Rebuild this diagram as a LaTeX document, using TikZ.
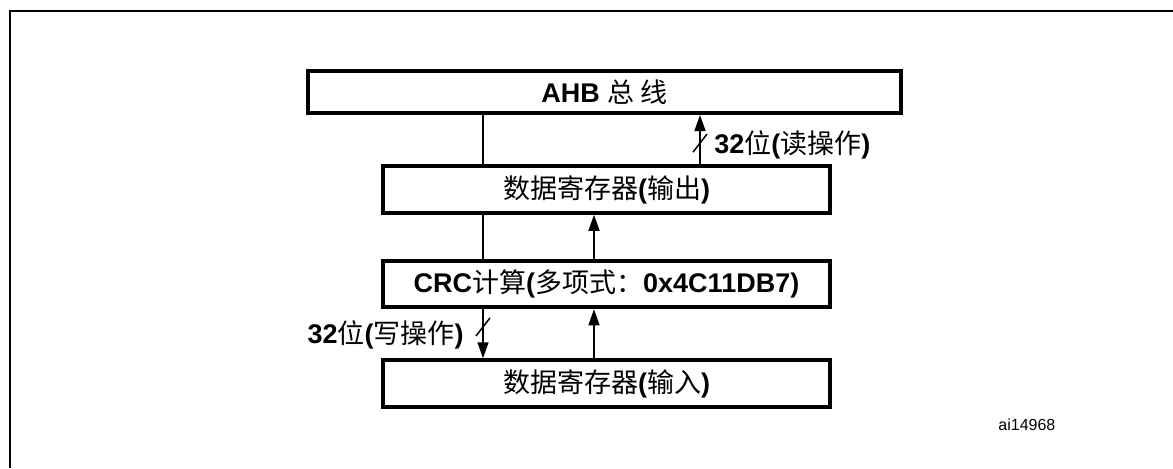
\documentclass[tikz,border=0pt]{standalone}
\usepackage{fontspec}
\setmainfont{Liberation Sans}
\newfontfamily\cjkfont{Noto Sans CJK SC}
\newcommand{\zh}[1]{{\cjkfont\mdseries #1}}
\usetikzlibrary{positioning,calc,arrows.meta}

\begin{document}
\begin{tikzpicture}
  [x=0.5pt, y=-0.5pt,
   block/.style={
    rectangle,
    draw,
    line width=2pt,
    fill=white,
    minimum width=#1,
    minimum height=23.25pt,
    inner sep=0pt,
    align=center,
    font=\fontsize{13.5}{16}\selectfont\bfseries
    },
   wire/.style={line width=0.75pt},
   busarrow/.style={wire, -{Triangle[length=8pt,width=5.5pt]}},
   buslabel/.style={font=\fontsize{13.5}{16}\selectfont\bfseries, inner sep=0pt}
  ]
  \useasboundingbox (0,0) rectangle (1173,468);

  % FRAME
  \draw[line width=1.2pt] (10,468) -- (10,11) -- (1173,11);

  % BLOCKS
  \node [block=296.5pt, minimum height=21pt] (ahb) at (604.5,92) {AHB \zh{总 线}};
  \node [block=223.5pt] (outreg) at (606.5,189.5) {\zh{数据寄存器}(\zh{输出})};
  \node [block=223.5pt] (crc) at (606.5,284) {CRC\zh{计算}(\zh{多项式：}0x4C11DB7)};
  \node [block=223.5pt] (inreg) at (606.5,383.5) {\zh{数据寄存器}(\zh{输入})};

  % PATHS
  \coordinate (wrx) at (483,0);
  \coordinate (rdx) at (594,0);
  \coordinate (ahbx) at (700,0);

  % write path
  \draw[wire] (ahb.south -| wrx) -- (outreg.north -| wrx);
  \draw[wire] (outreg.south -| wrx) -- (crc.north -| wrx);
  \draw[busarrow] (crc.south -| wrx) -- coordinate[pos=0.36] (wrslash) (inreg.north -| wrx);

  % read path
  \draw[busarrow] (inreg.north -| rdx) -- (crc.south -| rdx);
  \draw[busarrow] (crc.north -| rdx) -- (outreg.south -| rdx);
  \draw[busarrow] (outreg.north -| ahbx) -- coordinate[pos=0.43] (rdslash) (ahb.south -| ahbx);

  % bus width marks
  \draw[wire] ($(wrslash)+(-7,9)$) -- ($(wrslash)+(7,-9)$);
  \draw[wire] ($(rdslash)+(-7,9)$) -- ($(rdslash)+(7,-9)$);
  \node [buslabel, anchor=west] (rdlabel) at ($(rdslash)+(14,2)$) {32\zh{位}(\zh{读操作})};
  \node [buslabel, anchor=east] (wrlabel) at ($(wrslash)+(-19,8)$) {32\zh{位}(\zh{写操作})};

  \node [font=\fontsize{8}{10}\selectfont, anchor=west, inner sep=0pt] (figid) at (998,425) {ai14968};
\end{tikzpicture}
\end{document}
